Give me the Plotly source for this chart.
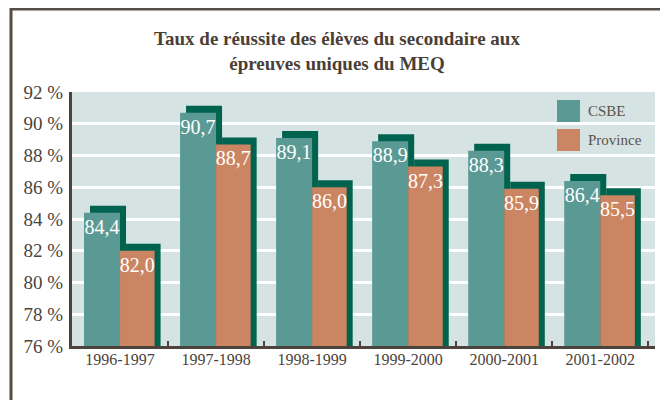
import plotly.graph_objects as go

# ---- data ----
years = ["1996-1997", "1997-1998", "1998-1999", "1999-2000", "2000-2001", "2001-2002"]
csbe = [84.4, 90.7, 89.1, 88.9, 88.3, 86.4]
province = [82.0, 88.7, 86.0, 87.3, 85.9, 85.5]
series_names = ["CSBE", "Province"]
y_ticks = [76, 78, 80, 82, 84, 86, 88, 90, 92]
title = "<b>Taux de réussite des élèves du secondaire aux<br>épreuves uniques du MEQ</b>"

# ---- style ----
C_CSBE = "#5B9A94"
C_PROV = "#CC8562"
C_SHADOW = "#00634F"
C_BG = "#D5E3E2"
C_AXIS = "#4B433C"
FONT = "Liberation Serif"

# page body has an 8px margin; figure is sized to fit the window
OFF = 8
W, H = 668 - OFF, 400 - OFF
L, R, T, B = 72 - OFF, 13, 92 - OFF, 54
PW, PH = W - L - R, H - T - B
Y0, Y1 = 76, 92
unit_px = PH / (Y1 - Y0)
cat_px = 96.0
SH_DX = 6 / cat_px      # shadow offset (category units)
SH_DY = 7 / unit_px     # shadow offset (value units)

def fr(v):
    return f"{v:.1f}".replace(".", ",")

fig = go.Figure()

# shadows
fig.add_trace(go.Bar(x=years, y=[v + SH_DY for v in csbe], offset=-0.375 + SH_DX, width=0.375,
                     marker=dict(color=C_SHADOW, line=dict(width=0)), hoverinfo="skip", showlegend=False))
fig.add_trace(go.Bar(x=years, y=[v + SH_DY for v in province], offset=0.0 + SH_DX, width=0.36,
                     marker=dict(color=C_SHADOW, line=dict(width=0)), hoverinfo="skip", showlegend=False))
# main bars
fig.add_trace(go.Bar(x=years, y=csbe, name=series_names[0], offset=-0.375, width=0.375,
                     marker=dict(color=C_CSBE, line=dict(width=0)),
                     text=[fr(v) for v in csbe], textposition="inside", insidetextanchor="end",
                     constraintext="none", textangle=0,
                     textfont=dict(family=FONT, size=20, color="white"), showlegend=False))
fig.add_trace(go.Bar(x=years, y=province, name=series_names[1], offset=0.0, width=0.36,
                     marker=dict(color=C_PROV, line=dict(width=0)),
                     text=[fr(v) for v in province], textposition="inside", insidetextanchor="end",
                     constraintext="none", textangle=0,
                     textfont=dict(family=FONT, size=20, color="white"), showlegend=False))

# helpers: window pixel -> paper coordinate
def px_to_paper_x(px):
    return (px - OFF - L) / PW

def px_to_paper_y(py):
    return (H - B - (py - OFF)) / PH

shapes = []
# frame lines
shapes.append(dict(type="line", xref="paper", yref="paper",
                   x0=px_to_paper_x(10), x1=px_to_paper_x(668), y0=px_to_paper_y(9), y1=px_to_paper_y(9),
                   line=dict(color="#544C45", width=3)))
shapes.append(dict(type="line", xref="paper", yref="paper",
                   x0=px_to_paper_x(11), x1=px_to_paper_x(11), y0=px_to_paper_y(8), y1=px_to_paper_y(400),
                   line=dict(color="#544C45", width=3)))
# legend swatches
leg_colors = [C_CSBE, C_PROV]
leg_tops = [100, 129]
annotations = []
for name, col, top in zip(series_names, leg_colors, leg_tops):
    shapes.append(dict(type="rect", xref="paper", yref="paper",
                       x0=px_to_paper_x(557), x1=px_to_paper_x(580),
                       y0=px_to_paper_y(top + 22), y1=px_to_paper_y(top),
                       fillcolor=col, line=dict(width=0)))
    annotations.append(dict(text=name, xref="paper", yref="paper",
                            x=px_to_paper_x(586), y=px_to_paper_y(top + 11),
                            xanchor="left", yanchor="middle", showarrow=False,
                            font=dict(family=FONT, size=15, color="#5A534D")))

fig.update_layout(
    width=W, height=H,
    margin=dict(l=L, r=R, t=T, b=B, autoexpand=False),
    paper_bgcolor="white", plot_bgcolor=C_BG,
    barmode="overlay",
    title=dict(text=title, x=(337 - OFF) / W, xanchor="center", y=1 - 37 / H, yanchor="top",
               font=dict(family=FONT, size=19, color="#4A3F36"), automargin=False),
    shapes=shapes, annotations=annotations,
    xaxis=dict(type="category", categoryorder="array", categoryarray=years, automargin=False,
               range=[-0.5, 5.57], showgrid=False, showline=True, linecolor=C_AXIS, linewidth=3,
               ticks="inside", tickson="boundaries", ticklen=5, tickwidth=2, tickcolor=C_AXIS,
               ticklabelstandoff=-3,
               tickfont=dict(family=FONT, size=16, color=C_AXIS), fixedrange=True),
    yaxis=dict(range=[Y0, Y1], tickvals=y_ticks, ticktext=[f"{v} %" for v in y_ticks], automargin=False,
               showgrid=True, gridcolor="white", gridwidth=3, zeroline=False,
               showline=True, linecolor=C_AXIS, linewidth=3, ticks="", ticklabelstandoff=2,
               tickfont=dict(family=FONT, size=19, color=C_AXIS), fixedrange=True),
    font=dict(family=FONT),
    showlegend=False,
)

fig.write_html("out.html")
